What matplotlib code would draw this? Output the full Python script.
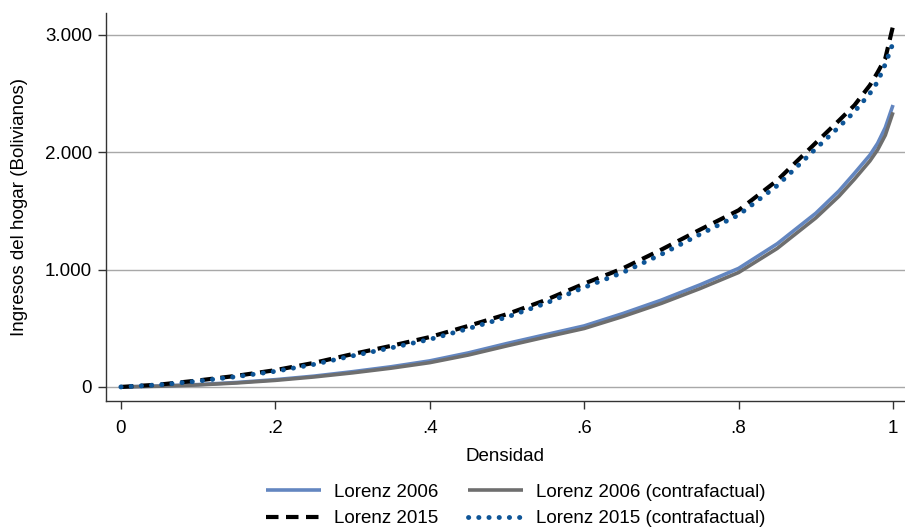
import numpy as np
import matplotlib
matplotlib.use("Agg")
import matplotlib.pyplot as plt
from matplotlib.ticker import FuncFormatter

plt.rcParams['font.family'] = ['Liberation Sans', 'DejaVu Sans']

# Densidad (x) and household income (Bolivianos)
densidad = [0, .05, .1, .15, .2, .25, .3, .35, .4, .45, .5, .55, .6, .65, .7,
            .75, .8, .85, .9, .93, .95, .97, .98, .99, 1.0]

lorenz_2006 = [0, 8, 20, 38, 62, 92, 130, 172, 222, 290, 370, 445, 520, 625, 740,
               870, 1010, 1220, 1480, 1670, 1820, 1975, 2075, 2210, 2402]
lorenz_2006_cf = [0, 6, 17, 34, 56, 85, 120, 160, 207, 272, 350, 425, 498, 600, 712,
                  838, 975, 1180, 1440, 1625, 1770, 1925, 2020, 2145, 2340]
lorenz_2015 = [0, 20, 55, 95, 143, 205, 280, 350, 425, 520, 620, 740, 880, 1010, 1170,
               1340, 1505, 1760, 2080, 2270, 2400, 2570, 2680, 2800, 3075]
lorenz_2015_cf = [0, 18, 50, 88, 133, 192, 265, 333, 405, 497, 595, 712, 848, 975, 1130,
                  1300, 1465, 1715, 2030, 2215, 2345, 2500, 2600, 2750, 2930]

x_ticks = [0, .2, .4, .6, .8, 1]
x_tick_labels = ['0', '.2', '.4', '.6', '.8', '1']
y_ticks = [0, 1000, 2000, 3000]

FS = 13.5


def thousands(v, pos):
    return f"{int(v):,}".replace(",", ".")


fig = plt.figure(figsize=(9.05, 5.31), dpi=100)
ax = fig.add_axes([0.117, 0.245, 0.883, 0.7305])

l06, = ax.plot(densidad, lorenz_2006, color='#6386c0', lw=2.6, label='Lorenz 2006',
               solid_capstyle='butt')
l06c, = ax.plot(densidad, lorenz_2006_cf, color='#6e6e6e', lw=2.6,
                label='Lorenz 2006 (contrafactual)', solid_capstyle='butt')
l15, = ax.plot(densidad, lorenz_2015, color='black', lw=3.0, linestyle=(0, (3.0, 1.8)),
               label='Lorenz 2015')
l15c, = ax.plot(densidad, lorenz_2015_cf, color='#0e5597', lw=3.5,
                linestyle=(0, (0.05, 2.05)), dash_capstyle='round',
                label='Lorenz 2015 (contrafactual)')

ax.set_xlim(-0.0194, 1.0155)
ax.set_ylim(-119, 3186)
ax.set_xticks(x_ticks)
ax.set_xticklabels(x_tick_labels)
ax.set_yticks(y_ticks)
ax.yaxis.set_major_formatter(FuncFormatter(thousands))
ax.tick_params(labelsize=FS, length=6, width=1, color='#333333')
ax.tick_params(axis='x', pad=8)
ax.tick_params(axis='y', pad=4)
ax.grid(axis='y', color='#a8a8a8', lw=1.0)
ax.set_axisbelow(True)
for side in ['top', 'right']:
    ax.spines[side].set_visible(False)
for side in ['left', 'bottom']:
    ax.spines[side].set_color('#333333')
    ax.spines[side].set_linewidth(1.0)

ax.set_xlabel('Densidad', fontsize=FS, labelpad=8)
ax.set_ylabel('Ingresos del hogar (Bolivianos)', fontsize=FS, labelpad=12)

# row-major order like the original: 2006 pair on top, 2015 pair below
ax.legend([l06, l15, l06c, l15c],
          [l06.get_label(), l15.get_label(), l06c.get_label(), l15c.get_label()],
          loc='upper center', bbox_to_anchor=(0.513, -0.18), ncol=2, frameon=False,
          fontsize=FS, handlelength=2.9, columnspacing=1.6, handletextpad=0.7,
          labelspacing=0.5, borderpad=0.2)

fig.savefig('out.png', dpi=100)
